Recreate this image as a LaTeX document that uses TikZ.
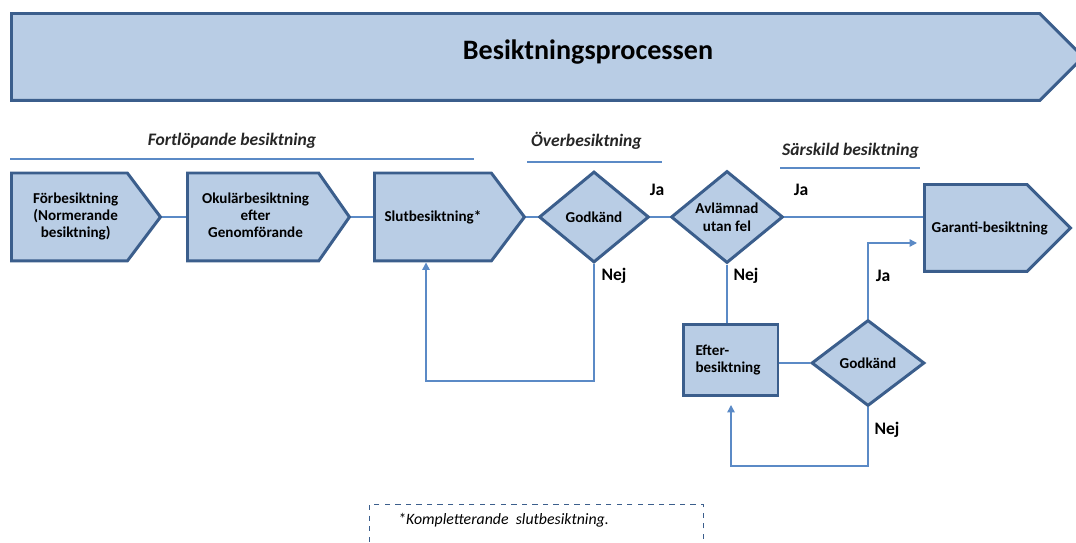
\documentclass[tikz,border=0pt]{standalone}
\usepackage{fontspec}
\setmainfont{Carlito}
\usetikzlibrary{shapes.symbols}
\usetikzlibrary{shapes.geometric}
\usetikzlibrary{arrows.meta}

\definecolor{boxfill}{HTML}{B9CDE5}
\definecolor{boxline}{HTML}{3B5E8C}
\definecolor{connline}{HTML}{5B8AC6}

\begin{document}
\begin{tikzpicture}[x=0.02cm, y=-0.02cm,
  stage/.style={signal, signal to=east, draw=boxline, line width=1.7pt, fill=boxfill, font=\fontsize{8.6}{9.8}\selectfont\bfseries, align=center, minimum height=1.76cm, inner sep=1pt, anchor=west},
  check/.style={diamond, draw=boxline, line width=1.7pt, fill=boxfill, font=\fontsize{8.6}{10.4}\selectfont\bfseries, align=center, inner sep=0pt},
  taskbox/.style={rectangle, draw=boxline, line width=1.7pt, fill=boxfill, font=\fontsize{8.6}{9.8}\selectfont\bfseries, align=left},
  conn/.style={draw=connline, line width=0.8pt},
  arr/.style={-{Triangle[width=0.15cm, length=0.15cm]}},
  answer/.style={font=\fontsize{10}{12}\selectfont\bfseries},
  phase/.style={font=\fontsize{10}{12}\selectfont\bfseries\itshape, text=black!85}]

      \useasboundingbox (0,0) rectangle (1076,543);

      \node[stage, minimum width=21.44cm, minimum height=1.74cm, signal pointer angle=90] (banner) at (10,57) {};
      \node[font=\fontsize{16}{19}\selectfont\bfseries] (title) at (588,52) {Besiktningsprocessen};

      \node[phase] (fortl) at (232,141) {Fortlöpande besiktning};
      \node[phase, anchor=west] (overb) at (525,141) {Överbesiktning};
      \node[phase, anchor=west] (sarsk) at (776,151) {Särskild besiktning};
      \coordinate (fortla) at (10,159);
      \coordinate (fortlb) at (474,159);
      \coordinate (overba) at (527,162);
      \coordinate (overbb) at (662,162);
      \coordinate (sarska) at (780,168);
      \coordinate (sarskb) at (920,168);
      \draw[conn] (fortla) -- (fortlb);
      \draw[conn] (overba) -- (overbb);
      \draw[conn] (sarska) -- (sarskb);

      \node[stage, minimum width=2.98cm, signal pointer angle=106] (forb) at (10,217) {\hspace*{0.25cm}\begin{tabular}{@{}c@{}}Förbesiktning\\(Normerande\\besiktning)\end{tabular}};
      \node[stage, minimum width=3.24cm, signal pointer angle=110] (okul) at (186,217) {\hspace*{0.1cm}\begin{tabular}{@{}c@{}}Okulärbesiktning\\efter\\Genomförande\end{tabular}};
      \node[stage, minimum width=3.0cm, signal pointer angle=106] (slut) at (373,217) {Slutbesiktning*};

      \node[check, minimum width=2.2cm, minimum height=1.82cm] (godk) at (594,217) {Godkänd};
      \node[check, minimum width=2.24cm, minimum height=1.78cm] (avl) at (727,217) {Avlämnad\\utan fel};

      \node[stage, minimum width=2.92cm, minimum height=1.74cm, signal pointer angle=90] (garanti) at (923,228) {\makebox[1.96cm][l]{\hspace*{0.1cm}Garanti-besiktning}};

      \node[taskbox, minimum width=1.9cm, minimum height=1.42cm, text width=1.4cm] (efter) at (730.5,360) {Efter-\\besiktning};
      \node[check, minimum width=2.26cm, minimum height=1.72cm] (godk2) at (868,363) {Godkänd};

      \draw[conn] (forb.east) -- (okul.west);
      \draw[conn] (okul.east) -- (slut.west);
      \draw[conn] (slut.east) -- (godk.west);
      \draw[conn] (godk.east) -- (avl.west);
      \draw[conn] (avl.east) -- (avl.east -| garanti.west);
      \draw[conn] (avl.south) -- (avl.south |- efter.north);
      \draw[conn] (godk2.west) -- (godk2.west -| efter.east);

      \coordinate (loopa) at (426,381);
      \draw[conn, arr] (godk.south) |- (loopa) -- (loopa |- slut.south);

      \coordinate (loopb) at (731,466);
      \draw[conn, arr, shorten >=0.16cm] (godk2.south) |- (loopb) -- (loopb |- efter.south);

      \coordinate (jaend) at (917,243);
      \draw[conn, arr] (godk2.north) |- (jaend);

      \node[answer] (ja1) at (657,190) {Ja};
      \node[answer] (ja2) at (801,190) {Ja};
      \node[answer] (nej1) at (614,276) {Nej};
      \node[answer] (nej2) at (746,276) {Nej};
      \node[answer] (ja3) at (883,276) {Ja};
      \node[answer] (nej3) at (887,430) {Nej};

      \node[draw=boxline, dashed, line width=0.6pt, minimum width=6.68cm, minimum height=1.6cm, anchor=north west] (note) at (369,504) {};
      \node[font=\fontsize{9}{11}\selectfont\itshape, anchor=west] (notetext) at (392,520) {*Kompletterande\ \ slutbesiktning.};

  \end{tikzpicture}
\end{document}
